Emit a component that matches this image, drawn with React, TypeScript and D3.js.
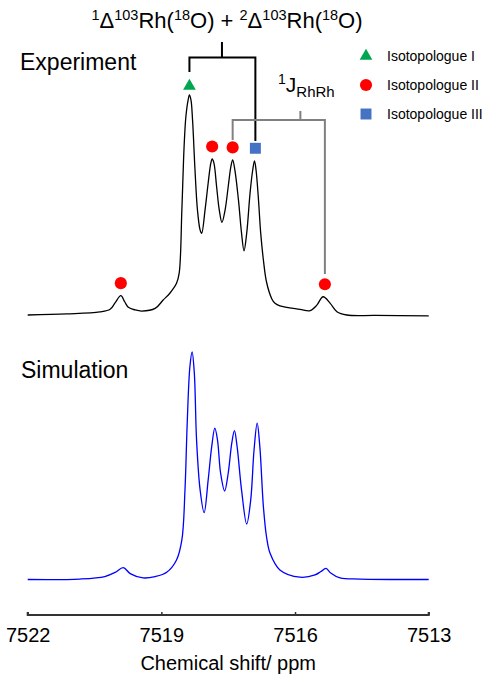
import React, { useRef, useEffect } from 'react';
import * as d3 from 'd3';

const expPpm = [7522.0, 7521.12, 7520.38, 7520.15, 7520.04, 7519.91, 7519.82, 7519.74, 7519.59, 7519.44,
  7519.14, 7518.96, 7518.81, 7518.66, 7518.6, 7518.54, 7518.49, 7518.45, 7518.4, 7518.37,
  7518.335, 7518.3, 7518.245, 7518.19, 7518.13, 7518.095, 7518.02, 7517.95, 7517.89, 7517.86,
  7517.82, 7517.76, 7517.7, 7517.64, 7517.57, 7517.5, 7517.44, 7517.4, 7517.35, 7517.27,
  7517.2, 7517.145, 7517.085, 7517.01, 7516.95, 7516.91, 7516.875, 7516.82, 7516.77, 7516.71,
  7516.64, 7516.52, 7516.45, 7516.34, 7515.89, 7515.66, 7515.51, 7515.37, 7515.21, 7515.06,
  7514.84, 7514.2, 7513.0];
const expInt = [0.0, 0.005, 0.014, 0.026, 0.055, 0.088, 0.059, 0.035, 0.023, 0.018,
  0.03, 0.068, 0.099, 0.144, 0.19, 0.477, 0.765, 0.901, 0.977, 1.0,
  0.977, 0.886, 0.659, 0.477, 0.386, 0.371, 0.477, 0.599, 0.69, 0.709,
  0.69, 0.583, 0.477, 0.421, 0.477, 0.583, 0.674, 0.705, 0.659, 0.523,
  0.371, 0.292, 0.371, 0.553, 0.659, 0.701, 0.659, 0.523, 0.371, 0.25,
  0.15, 0.073, 0.053, 0.041, 0.026, 0.02, 0.045, 0.083, 0.053, 0.015,
  0.0, -0.002, -0.004];

// Simulated trace
const simPpm = [7522.0, 7520.83, 7520.27, 7520.04, 7519.855, 7519.7, 7519.41, 7519.14, 7518.88, 7518.66,
  7518.54, 7518.47, 7518.42, 7518.36, 7518.31, 7518.26, 7518.21, 7518.13, 7518.04, 7517.95,
  7517.87, 7517.8, 7517.74, 7517.67, 7517.58, 7517.5, 7517.42, 7517.36, 7517.3, 7517.2,
  7517.085, 7516.995, 7516.92, 7516.85, 7516.79, 7516.71, 7516.64, 7516.56, 7516.34, 7515.89,
  7515.55, 7515.42, 7515.305, 7515.2, 7514.99, 7514.54, 7513.0];
const simInt = [0.0, 0.002, 0.013, 0.031, 0.052, 0.026, 0.007, 0.013, 0.032, 0.086,
  0.174, 0.393, 0.687, 0.935, 1.0, 0.906, 0.613, 0.393, 0.294, 0.437,
  0.584, 0.665, 0.613, 0.467, 0.389, 0.467, 0.599, 0.654, 0.584, 0.393,
  0.244, 0.349, 0.569, 0.687, 0.584, 0.32, 0.188, 0.115, 0.042, 0.01,
  0.02, 0.035, 0.049, 0.029, 0.007, 0.002, 0.0];

// Peak markers on the experimental trace
const markerPpm = [7518.37, 7517.86, 7517.4, 7519.91, 7515.33, 7516.89];
const markerInt = [1.0, 0.709, 0.705, 0.088, 0.083, 0.701];
const markerType = ['I', 'II', 'II', 'II', 'II', 'III'];

const legendLabels = ['Isotopologue I', 'Isotopologue II', 'Isotopologue III'];
const xTicks = [7522, 7519, 7516, 7513];

const colors: Record<string, string> = { I: '#00a650', II: '#ff0000', III: '#4472c4' };

const App = () => {
  const svgRef = useRef<SVGSVGElement>(null);

  useEffect(() => {
    const width = 489;
    const height = 675;
    const font = '"Liberation Sans", Arial, sans-serif';

    const svg = d3.select(svgRef.current);
    svg.selectAll('*').remove();
    svg.attr('width', width).attr('height', height).style('font-family', font);

    const x = d3.scaleLinear().domain([7522, 7513]).range([27.7, 428.7]);
    const yExp = d3.scaleLinear().domain([0, 1]).range([315, 95]);
    const ySim = d3.scaleLinear().domain([0, 1]).range([579.5, 352]);

    const curve = d3.curveCatmullRom.alpha(0.5);

    // experiment
    const expData = expPpm.map((p, i) => [p, expInt[i]] as [number, number]);
    svg.append('path')
      .datum(expData)
      .attr('fill', 'none')
      .attr('stroke', '#000')
      .attr('stroke-width', 1.3)
      .attr('d', d3.line<[number, number]>().x(d => x(d[0])).y(d => yExp(d[1])).curve(curve));

    // simulation
    const simData = simPpm.map((p, i) => [p, simInt[i]] as [number, number]);
    svg.append('path')
      .datum(simData)
      .attr('fill', 'none')
      .attr('stroke', '#0000ff')
      .attr('stroke-width', 1.3)
      .attr('d', d3.line<[number, number]>().x(d => x(d[0])).y(d => ySim(d[1])).curve(curve));

    // x axis, ticks pointing up
    const axis = svg.append('g')
      .attr('transform', `translate(0,615)`)
      .call(d3.axisBottom(x).tickValues(xTicks).tickSize(-3).tickPadding(8).tickFormat(d3.format('d')));
    axis.select('.domain').attr('stroke', '#333').attr('stroke-width', 2).attr('d', `M${x(7522)},-3V0H${x(7513)}V-3`);
    axis.selectAll('.tick line').attr('stroke', '#333').attr('stroke-width', 1.5);
    axis.selectAll('.tick text')
      .attr('font-family', font)
      .attr('font-size', 20)
      .attr('fill', '#000')
      .attr('dy', '0.95em');

    svg.append('text')
      .attr('x', x(7517.5))
      .attr('y', 670)
      .attr('text-anchor', 'middle')
      .style('font-size', '20px')
      .text('Chemical shift/ ppm');

    // panel labels
    svg.append('text').attr('x', 20).attr('y', 70).style('font-size', '23px').text('Experiment');
    svg.append('text').attr('x', 21).attr('y', 378).style('font-size', '23px').text('Simulation');

    // title
    const title = svg.append('text')
      .attr('x', 227)
      .attr('y', 28)
      .attr('text-anchor', 'middle')
      .style('font-size', '22px');
    let lift = 0;
    const sup = (t: string) => {
      title.append('tspan').attr('dy', -8 - lift).style('font-size', '14.5px').text(t);
      lift = -8;
    };
    const norm = (t: string) => {
      title.append('tspan').attr('dy', -lift).text(t);
      lift = 0;
    };
    sup('1'); norm('Δ'); sup('103'); norm('Rh('); sup('18'); norm('O) + ');
    sup('2'); norm('Δ'); sup('103'); norm('Rh('); sup('18'); norm('O)');

    // black bracket: 1Δ + 2Δ
    const bx1 = x(7518.37), bx2 = x(7516.89), bs = x(7517.64);
    svg.append('path')
      .attr('d', `M${bs},42V57.5 M${bx1},72V57.5H${bx2}V141`)
      .attr('fill', 'none')
      .attr('stroke', '#000')
      .attr('stroke-width', 2);

    // grey bracket: 1J RhRh
    const gx1 = x(7517.4), gx2 = x(7515.33), gs = x(7515.88);
    svg.append('path')
      .attr('d', `M${gs},111V120 M${gx1},140V120H${gx2}V274`)
      .attr('fill', 'none')
      .attr('stroke', '#808080')
      .attr('stroke-width', 2);

    const jl = svg.append('text').attr('x', 278).attr('y', 92).style('font-size', '21px');
    jl.append('tspan').attr('dy', -8).style('font-size', '14px').text('1');
    jl.append('tspan').attr('dy', 8).text('J');
    jl.append('tspan').attr('dy', 5).style('font-size', '15px').text('RhRh');

    // markers
    const symbol = (t: string) =>
      d3.symbol().type(t === 'I' ? d3.symbolTriangle : t === 'II' ? d3.symbolCircle : d3.symbolSquare)
        .size(t === 'I' ? 70 : t === 'II' ? 115 : 120)();

    svg.selectAll('path.marker')
      .data(markerPpm)
      .join('path')
      .attr('class', 'marker')
      .attr('transform', (d, i) => `translate(${x(d)},${yExp(markerInt[i]) - (markerType[i] === 'I' ? 9 : 12.5)})`)
      .attr('d', (d, i) => symbol(markerType[i]))
      .attr('fill', (d, i) => colors[markerType[i]]);

    // legend
    const types = ['I', 'II', 'III'];
    const lg = svg.append('g');
    types.forEach((t, i) => {
      const cy = 56 + i * 29;
      lg.append('path')
        .attr('transform', `translate(366,${cy})`)
        .attr('d', symbol(t))
        .attr('fill', colors[t]);
      lg.append('text')
        .attr('x', 387)
        .attr('y', cy + 5)
        .style('font-size', '14px')
        .text(legendLabels[i]);
    });
  }, []);

  return (
    <div>
      <svg ref={svgRef} style={{ position: 'absolute', left: 0, top: 0 }}></svg>
    </div>
  );
};

export default App;
